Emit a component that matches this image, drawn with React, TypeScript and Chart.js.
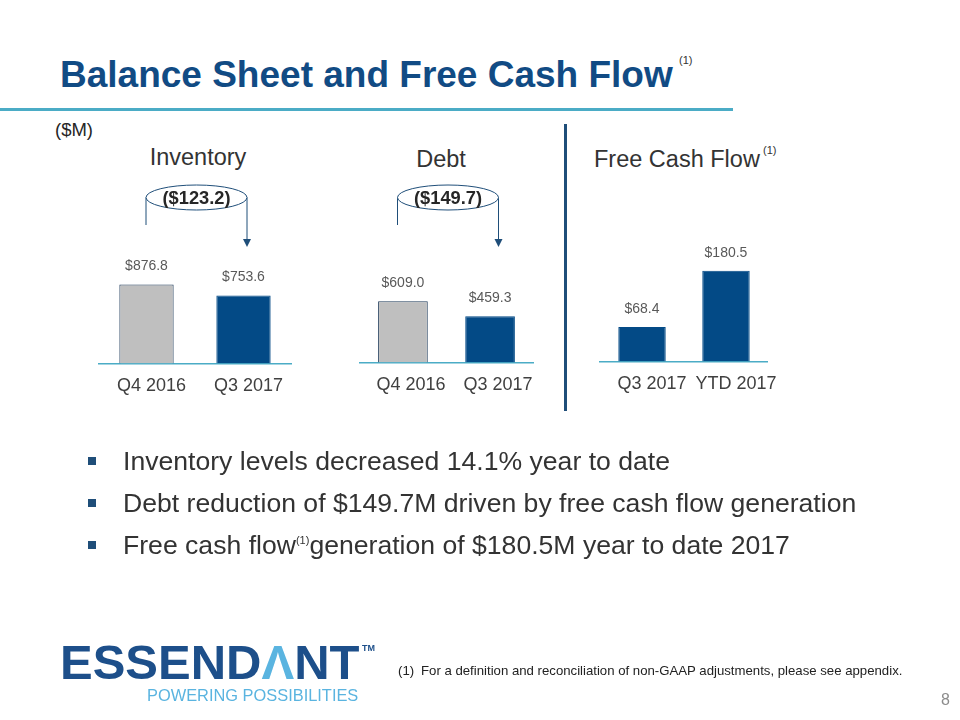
import React, { useEffect, useRef } from "react";
import { Chart, registerables } from "chart.js";

Chart.register(...registerables);

// ---- data ----
const invLabels = ["Q4 2016", "Q3 2017"];
const invValues = [876.8, 753.6];
const debtLabels = ["Q4 2016", "Q3 2017"];
const debtValues = [609.0, 459.3];
const fcfLabels = ["Q3 2017", "YTD 2017"];
const fcfValues = [68.4, 180.5];
const invChange = "($123.2)";
const debtChange = "($149.7)";
const bulletLine1 = "Inventory levels decreased 14.1% year to date";
const bulletLine2 = "Debt reduction of $149.7M driven by free cash flow generation";
const bulletLine3a = "Free cash flow";
const bulletLine3b = "generation of $180.5M year to date 2017";

const FONT = "Arial, 'Liberation Sans', sans-serif";
const NAVY = "#034a86";
const GRAY = "#bfbfbf";
const LIGHTBLUE = "#4bacc6";

const valueLabels = {
  id: "valueLabels",
  afterDatasetsDraw(chart: any) {
    const ctx = chart.ctx;
    const meta = chart.getDatasetMeta(0);
    const data = chart.data.datasets[0].data as number[];
    ctx.save();
    ctx.font = `14px ${FONT}`;
    ctx.fillStyle = "#595959";
    ctx.textAlign = "center";
    ctx.textBaseline = "middle";
    meta.data.forEach((el: any, i: number) => {
      ctx.fillText("$" + data[i].toFixed(1), el.x, el.y - 18);
    });
    ctx.restore();
  },
};

type BarProps = {
  labels: string[];
  values: number[];
  fills: string[];
  borders: string[];
  max: number;
  left: number;
  top: number;
  width: number;
  height: number;
  barPct: number;
  labelOffset: number;
};

function BarBox(p: BarProps) {
  const ref = useRef<HTMLCanvasElement | null>(null);
  useEffect(() => {
    if (!ref.current) return;
    const chart = new Chart(ref.current, {
      type: "bar",
      data: {
        labels: p.labels,
        datasets: [
          {
            data: p.values,
            backgroundColor: p.fills,
            borderColor: p.borders,
            borderWidth: 1,
            barPercentage: p.barPct,
            categoryPercentage: 1,
          },
        ],
      },
      options: {
        animation: false,
        responsive: false,
        maintainAspectRatio: false,
        layout: { padding: { top: 15, left: 0, right: 0, bottom: 0 }, autoPadding: false } as any,
        plugins: { legend: { display: false }, tooltip: { enabled: false } },
        scales: {
          x: {
            grid: { display: false, drawTicks: false },
            border: { display: true, color: LIGHTBLUE, width: 1.5 },
            ticks: {
              color: "#404040",
              font: { size: 18, family: FONT },
              padding: 12,
              labelOffset: p.labelOffset,
            },
          },
          y: { display: false, min: 0, max: p.max },
        },
      },
      plugins: [valueLabels],
    });
    return () => chart.destroy();
  }, []);
  return (
    <canvas
      ref={ref}
      width={p.width}
      height={p.height}
      style={{ position: "absolute", left: p.left, top: p.top, width: p.width, height: p.height }}
    />
  );
}

function Txt(props: {
  x: number;
  y: number;
  size: number;
  children: React.ReactNode;
  color?: string;
  bold?: boolean;
  center?: boolean;
  lh?: number;
  extra?: React.CSSProperties;
}) {
  const { x, y, size, color = "#333", bold, center, lh = 1, extra } = props;
  return (
    <div
      style={{
        position: "absolute",
        left: x,
        top: y - (lh / 2 - 0.0115) * size,
        fontSize: size,
        lineHeight: lh,
        fontFamily: FONT,
        fontWeight: bold ? "bold" : "normal",
        color,
        whiteSpace: "nowrap",
        transform: center ? "translateX(-50%)" : undefined,
        ...extra,
      }}
    >
      {props.children}
    </div>
  );
}

function Callout({ cx, text }: { cx: number; text: string }) {
  const cy = 197.5;
  const rx = 50.5;
  const ry = 12.5;
  return (
    <g>
      <line x1={cx - rx} y1={cy} x2={cx - rx} y2={225} stroke="#1f4e79" strokeWidth={1} />
      <line x1={cx + rx} y1={cy} x2={cx + rx} y2={240} stroke="#1f4e79" strokeWidth={1} />
      <polygon
        points={`${cx + rx - 4},${239} ${cx + rx + 4},${239} ${cx + rx},${247}`}
        fill="#1f4e79"
      />
      <ellipse cx={cx} cy={cy} rx={rx} ry={ry} fill="#ffffff" stroke="#1f4e79" strokeWidth={1} />
      <text
        x={cx}
        y={cy + 0.36 * 18.3}
        textAnchor="middle"
        fontFamily={FONT}
        fontWeight="bold"
        fontSize={18.3}
        fill="#262626"
      >
        {text}
      </text>
    </g>
  );
}

function Bullet({ y, children }: { y: number; children: React.ReactNode }) {
  return (
    <>
      <div style={{ position: "absolute", left: 88, top: y - 4, width: 8, height: 8, background: "#1f4e79" }} />
      <Txt x={123} y={y} size={26.6} color="#333">
        {children}
      </Txt>
    </>
  );
}

export default function App() {
  return (
    <div
      style={{
        position: "absolute",
        left: 0,
        top: 0,
        width: 960,
        height: 720,
        background: "#ffffff",
        overflow: "hidden",
        fontFamily: FONT,
      }}
    >
      {/* Title */}
      <Txt x={60} y={74} size={37} bold color="#114b84">
        Balance Sheet and Free Cash Flow
      </Txt>
      <Txt x={679} y={60} size={11} color="#333">
        (1)
      </Txt>
      <div style={{ position: "absolute", left: 0, top: 108, width: 733, height: 3, background: LIGHTBLUE }} />

      <Txt x={55} y={130} size={18.5} color="#262626">
        ($M)
      </Txt>

      {/* Section titles */}
      <Txt x={198} y={157} size={23.5} center color="#333">
        Inventory
      </Txt>
      <Txt x={441} y={159} size={23.5} center color="#333">
        Debt
      </Txt>
      <Txt x={594} y={159} size={23.5} color="#333">
        Free Cash Flow
      </Txt>
      <Txt x={763} y={150} size={11} color="#333">
        (1)
      </Txt>

      {/* Divider */}
      <div style={{ position: "absolute", left: 564, top: 124, width: 3, height: 287, background: "#1f4e79" }} />

      {/* Charts */}
      <BarBox
        labels={invLabels}
        values={invValues}
        fills={[GRAY, NAVY]}
        borders={["#1f3b5a", NAVY]}
        max={1315}
        left={98}
        top={230}
        width={194}
        height={179}
        barPct={0.56}
        labelOffset={5}
      />
      <BarBox
        labels={debtLabels}
        values={debtValues}
        fills={[GRAY, NAVY]}
        borders={["#1f3b5a", NAVY]}
        max={1169}
        left={357}
        top={230}
        width={179}
        height={178}
        barPct={0.57}
        labelOffset={8}
      />
      <BarBox
        labels={fcfLabels}
        values={fcfValues}
        fills={[NAVY, NAVY]}
        borders={[NAVY, NAVY]}
        max={231.5}
        left={598}
        top={230}
        width={180}
        height={177}
        barPct={0.565}
        labelOffset={10}
      />

      {/* Callouts */}
      <svg
        width={960}
        height={720}
        style={{ position: "absolute", left: 0, top: 0, pointerEvents: "none" }}
      >
        <Callout cx={196.5} text={invChange} />
        <Callout cx={448} text={debtChange} />
      </svg>

      {/* Bullets */}
      <Bullet y={461}>{bulletLine1}</Bullet>
      <Bullet y={503}>{bulletLine2}</Bullet>
      <Bullet y={545}>
        {bulletLine3a}
        <span style={{ fontSize: 11, position: "relative", top: -10 }}>(1)</span>
        {bulletLine3b}
      </Bullet>

      {/* Logo */}
      <Txt x={60} y={662.5} size={49} lh={0.8} bold color="#1d4f8a">
        ESSEND<span style={{ color: "#5ab4e0" }}>Λ</span>NT
      </Txt>
      <Txt x={362} y={648} size={9} lh={0.9} bold color="#1d4f8a">
        TM
      </Txt>
      <Txt x={147} y={695.5} size={16.4} lh={0.9} color="#5ab4e0">
        POWERING POSSIBILITIES
      </Txt>

      {/* Footnote */}
      <Txt x={398} y={670} size={13.2} color="#222">
        (1)
      </Txt>
      <Txt x={421} y={670} size={13.2} color="#222">
        For a definition and reconciliation of non-GAAP adjustments, please see appendix.
      </Txt>

      <Txt x={941} y={700} size={16} color="#8c8c8c">
        8
      </Txt>
    </div>
  );
}
